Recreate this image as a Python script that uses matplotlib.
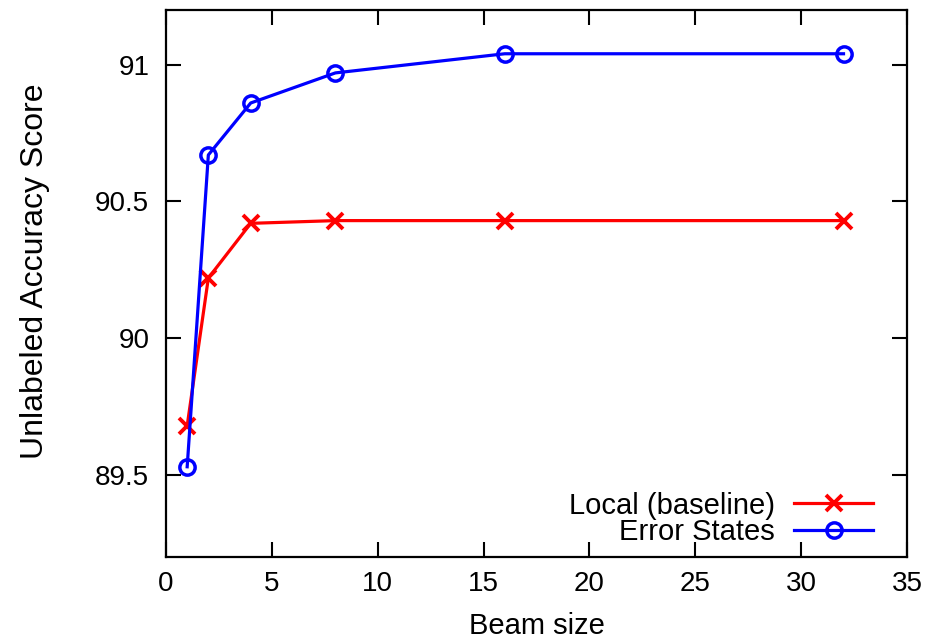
import matplotlib
matplotlib.use('Agg')
import matplotlib.pyplot as plt

beam_sizes = [1, 2, 4, 8, 16, 32]
local_baseline = [89.68, 90.22, 90.42, 90.43, 90.43, 90.43]
error_states = [89.53, 90.67, 90.86, 90.97, 91.04, 91.04]

x_ticks = [0, 5, 10, 15, 20, 25, 30, 35]
y_ticks = [89.5, 90, 90.5, 91]
y_tick_labels = ['89.5', '90', '90.5', '91']

plt.rcParams['font.family'] = ['Liberation Sans', 'DejaVu Sans']


def plot_beam(ax):
    ax.plot(beam_sizes, local_baseline, color='#ff0000', lw=2.3, marker='x',
            ms=11, mew=2.8, label='Local (baseline)')
    ax.plot(beam_sizes, error_states, color='#0000ff', lw=2.3, marker='o',
            ms=11, mew=2.5, mfc='none', label='Error States')

    ax.set_xlim(0, 35)
    ax.set_ylim(89.2, 91.2)
    ax.set_xticks(x_ticks)
    ax.set_yticks(y_ticks)
    ax.set_yticklabels(y_tick_labels)
    ax.tick_params(direction='in', length=11, width=1.5, top=True, right=True,
                   labelsize=20)
    ax.tick_params(axis='y', pad=12)
    ax.tick_params(axis='x', pad=10)
    for s in ax.spines.values():
        s.set_linewidth(1.6)
    ax.set_xlabel('Beam size', fontsize=21, labelpad=11)
    ax.set_ylabel('Unlabeled Accuracy Score', fontsize=23)
    ax.yaxis.set_label_coords(-0.157, 0.523)

    ax.legend(loc='lower right', bbox_to_anchor=(0.954, 0.02), frameon=False,
              markerfirst=False, fontsize=21, handlelength=2.7,
              handletextpad=0.65, labelspacing=-0.05, borderpad=0,
              borderaxespad=0)
    return ax


if __name__ == "__main__":
    fig = plt.figure(figsize=(9.3, 6.41), dpi=100)
    ax = fig.add_axes([0.1785, 0.131, 0.7968, 0.8534])
    plot_beam(ax)
    plt.savefig('out.png', dpi=100)
